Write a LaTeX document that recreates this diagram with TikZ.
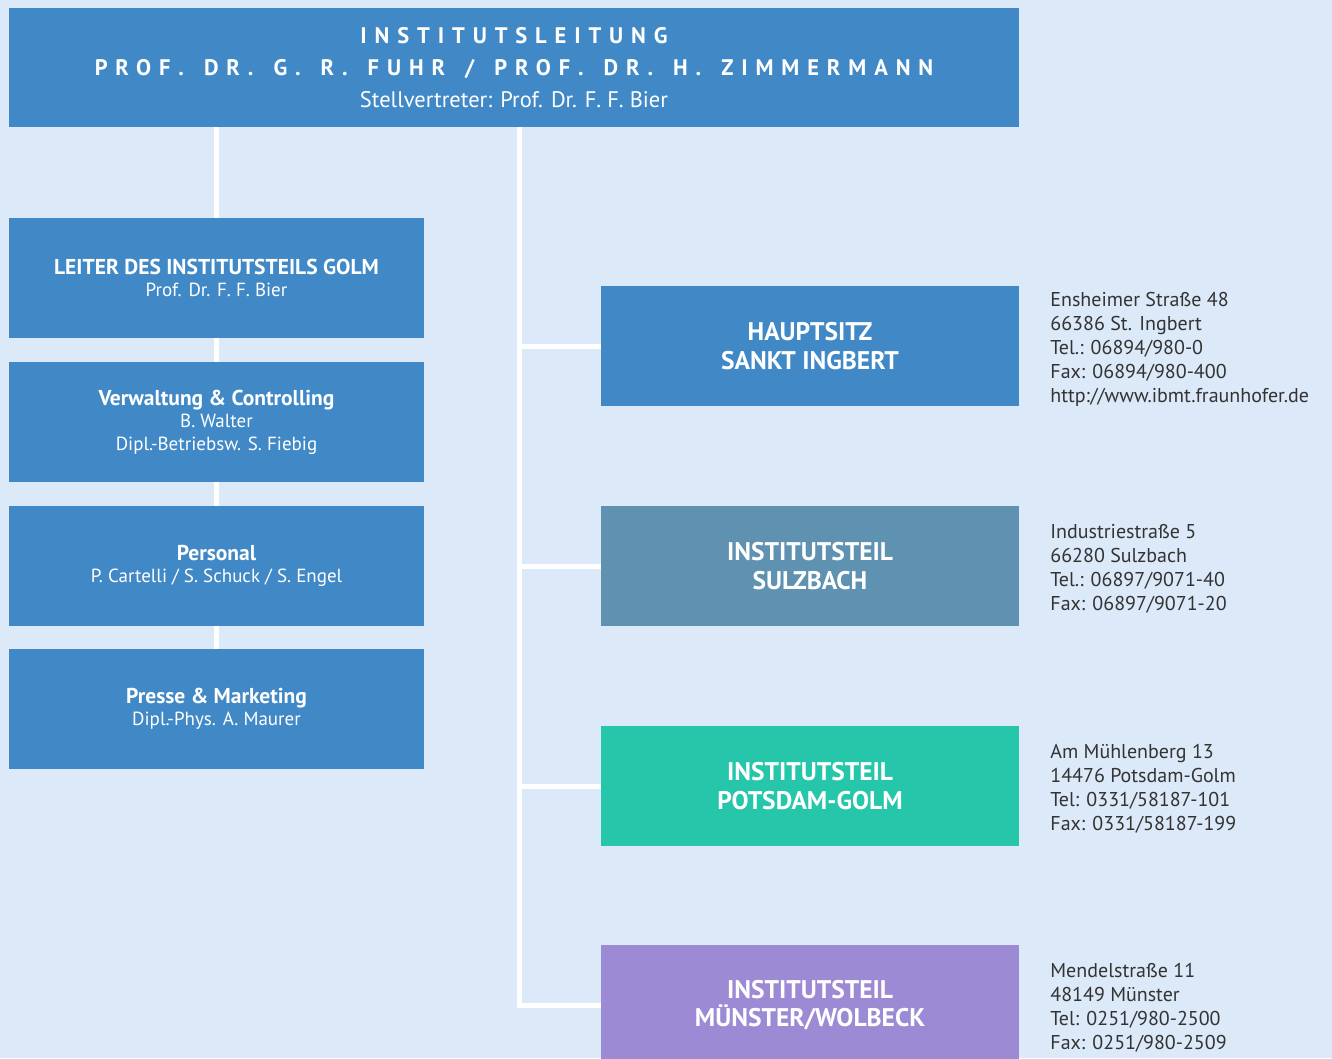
\documentclass[tikz,border=0pt]{standalone}
\usepackage{fontspec}
\setmainfont{PT Sans}
\usetikzlibrary{positioning}

\definecolor{bgblue}{HTML}{DBE9F8}
\definecolor{boxblue}{HTML}{4189C6}
\definecolor{sulzgrey}{HTML}{5E92B0}
\definecolor{golmgreen}{HTML}{26C6AA}
\definecolor{muenlila}{HTML}{9C8BD4}
\definecolor{addrgrey}{HTML}{333333}

\newcommand{\spaced}[1]{{\bfseries\addfontfeature{LetterSpace=35}#1}}
\newcommand{\spacedwide}[1]{{\bfseries\addfontfeature{LetterSpace=35}\spaceskip=1.48\fontdimen2\font\relax #1}}
\newcommand{\head}[1]{{\fontsize{21.5}{22}\selectfont\bfseries #1}}

\begin{document}
\begin{tikzpicture}[x=1pt, y=-1pt,
  every node/.style={font=\fontsize{19}{22.5}\selectfont, text=white, align=center, inner sep=0pt},
  staffbox/.style={fill=boxblue, minimum width=415pt, minimum height=120pt},
  sitebox/.style={fill=boxblue, minimum width=418pt, minimum height=120pt,
    font=\fontsize{25.5}{28.5}\selectfont\bfseries},
  addr/.style={align=left, text=addrgrey, font=\fontsize{20}{24}\selectfont},
  conn/.style={white, line width=5pt}]
  \useasboundingbox (0,0) rectangle (1332,1058);
  \clip (0,0) rectangle (1332,1058);
  \fill[bgblue] (0,0) rectangle (1332,1058);

  % Institutsleitung
  \node[fill=boxblue, minimum width=1010pt, minimum height=119pt,
    font=\fontsize{22.5}{32}\selectfont] (leitung) at (514,67.5)
    {\spaced{INSTITUTSLEITUNG}\\
     \spacedwide{PROF. DR. G. R. FUHR / PROF. DR. H. ZIMMERMANN}\\
     Stellvertreter: Prof. Dr. F. F. Bier};

  % linke Spalte
  \node[staffbox] (golm) at (216.5,278) {\head{LEITER DES INSTITUTSTEILS GOLM}\\Prof. Dr. F. F. Bier};
  \node[staffbox] (verw) at (216.5,422) {\head{Verwaltung \& Controlling}\\B. Walter\\Dipl.-Betriebsw. S. Fiebig};
  \node[staffbox] (pers) at (216.5,566) {\head{Personal}\\P. Cartelli / S. Schuck / S. Engel};
  \node[staffbox] (presse) at (216.5,709) {\head{Presse \& Marketing}\\Dipl.-Phys. A. Maurer};

  \draw[conn] (leitung.south -| golm.north) -- (golm.north);
  \draw[conn] (golm.south) -- (verw.north);
  \draw[conn] (verw.south) -- (pers.north);
  \draw[conn] (pers.south) -- (presse.north);

  % Standorte
  \node[sitebox] (haupt) at (810,346) {HAUPTSITZ\\SANKT INGBERT};
  \node[sitebox, fill=sulzgrey] (sulz) at (810,566) {INSTITUTSTEIL\\SULZBACH};
  \node[sitebox, fill=golmgreen] (potsdam) at (810,786) {INSTITUTSTEIL\\POTSDAM-GOLM};
  \node[sitebox, fill=muenlila] (muenster) at (810,1005) {INSTITUTSTEIL\\MÜNSTER/WOLBECK};

  \coordinate (trunk) at (519.5,0);
  \draw[conn] (leitung.south -| trunk) |- (muenster.west);
  \draw[conn] (trunk |- haupt.west) -- (haupt.west);
  \draw[conn] (trunk |- sulz.west) -- (sulz.west);
  \draw[conn] (trunk |- potsdam.west) -- (potsdam.west);

  % Adressen
  \node[addr, right=31pt of haupt, yshift=-3pt] (hauptaddr)
    {Ensheimer Straße 48\\66386 St. Ingbert\\Tel.: 06894/980-0\\Fax: 06894/980-400\\http://www.ibmt.fraunhofer.de};
  \node[addr, right=31pt of sulz, yshift=-3pt] (sulzaddr)
    {Industriestraße 5\\66280 Sulzbach\\Tel.: 06897/9071-40\\Fax: 06897/9071-20};
  \node[addr, right=31pt of potsdam, yshift=-3pt] (potsdamaddr)
    {Am Mühlenberg 13\\14476 Potsdam-Golm\\Tel: 0331/58187-101\\Fax: 0331/58187-199};
  \node[addr, right=31pt of muenster, yshift=-3pt] (muensteraddr)
    {Mendelstraße 11\\48149 Münster\\Tel: 0251/980-2500\\Fax: 0251/980-2509};
\end{tikzpicture}
\end{document}
